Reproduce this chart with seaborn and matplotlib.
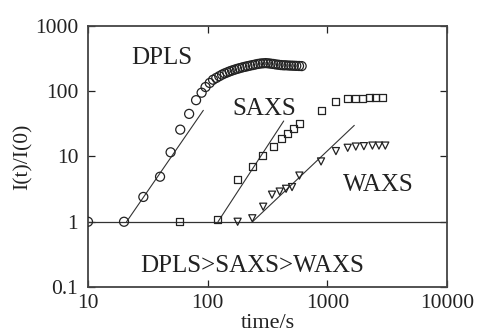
import matplotlib
matplotlib.use("Agg")
import matplotlib.pyplot as plt
import seaborn as sns
import pandas as pd

# ---- data ----
dpls_t = [10, 20, 29, 40, 49, 59, 70, 80, 89, 96,
          104, 111, 118, 125, 132, 139, 146, 153, 160, 168,
          176, 185, 195, 205, 215, 226, 238, 250, 263, 276,
          290, 305, 320, 336, 353, 370, 390, 410, 430, 450,
          475, 500, 525, 550, 580, 610]
dpls_y = [1.0, 1.0, 2.4, 4.9, 11.6, 25.8, 45, 73, 95, 116,
          134, 150, 160, 170, 180, 188, 195, 202, 208, 214,
          220, 226, 232, 237, 242, 247, 252, 257, 262, 266,
          268, 270, 268, 265, 262, 258, 255, 252, 250, 250,
          248, 247, 246, 245, 244, 243]

saxs_t = [58, 120, 178, 235, 289, 355, 411, 467, 524, 584,
          886, 1166, 1480, 1711, 1970, 2270, 2546, 2886]
saxs_y = [1.0, 1.1, 4.4, 7.1, 10.5, 14.3, 18.7, 22.3, 26.7, 32.3,
          51, 70, 77, 77, 77, 79, 81, 79]

waxs_t = [178, 236, 291, 345, 400, 452, 507, 584, 886, 1180,
          1480, 1730, 2020, 2380, 2700, 3050]
waxs_y = [1.0, 1.13, 1.7, 2.6, 2.9, 3.2, 3.4, 5.1, 8.4, 12.1,
          13.6, 14.2, 14.4, 14.7, 14.7, 14.7]

# fitted straight lines (endpoints)
dpls_fit_t = [21, 92]
dpls_fit_y = [1.0, 51]
saxs_fit_t = [122, 432]
saxs_fit_y = [1.0, 35]
waxs_fit_t = [237, 1680]
waxs_fit_y = [1.0, 30]

ref_t = [10, 10000]
ref_y = [1.0, 1.0]

labels = ["DPLS", "SAXS", "WAXS", "DPLS>SAXS>WAXS"]
label_t = [41, 299, 2660, 235]
label_y = [260, 42.8, 3.0, 0.17]

x_ticks = [10, 100, 1000, 10000]
x_ticklabels = ["10", "100", "1000", "10000"]
y_ticks = [0.1, 1, 10, 100, 1000]
y_ticklabels = ["0.1", "1", "10", "100", "1000"]

# ---- plotting ----
sns.set_theme(style="ticks")
plt.rcParams["font.family"] = ["Liberation Serif", "DejaVu Serif"]

fig = plt.figure(figsize=(4.81, 3.35), dpi=100)
ax = fig.add_axes([88 / 481, 1 - 287 / 335, (447 - 88) / 481, (287 - 26) / 335])

line_col = "#333333"
sns.lineplot(x=ref_t, y=ref_y, ax=ax, color=line_col, linewidth=0.9, estimator=None, sort=False)
for ft, fy in [(dpls_fit_t, dpls_fit_y), (saxs_fit_t, saxs_fit_y), (waxs_fit_t, waxs_fit_y)]:
    sns.lineplot(x=ft, y=fy, ax=ax, color=line_col, linewidth=0.8, estimator=None, sort=False)

sns.scatterplot(x=dpls_t, y=dpls_y, ax=ax, marker="o", s=42,
                facecolor="none", edgecolor="#222222", linewidth=0.9, zorder=3)
sns.scatterplot(x=saxs_t, y=saxs_y, ax=ax, marker="s", s=26,
                facecolor="none", edgecolor="#222222", linewidth=0.9, zorder=3)
sns.scatterplot(x=waxs_t, y=waxs_y, ax=ax, marker="v", s=26,
                facecolor="none", edgecolor="#222222", linewidth=0.9, zorder=3)

ax.set_xscale("log")
ax.set_yscale("log")
ax.set_xlim(10, 10000)
ax.set_ylim(0.1, 1000)
ax.set_xticks(x_ticks)
ax.set_xticklabels(x_ticklabels)
ax.set_yticks(y_ticks)
ax.set_yticklabels(y_ticklabels)
ax.minorticks_off()
ax.tick_params(which="major", direction="in", length=5, width=0.9,
               top=True, right=True, labelsize=15.5, colors="#222222")
ax.tick_params(axis="x", pad=5)
ax.tick_params(axis="y", pad=7)
for sp in ax.spines.values():
    sp.set_color("#444444")
    sp.set_linewidth(1.3)
    sp.set_visible(True)

ax.set_xlabel("time/s", fontsize=16, labelpad=1, color="#222222")
ax.set_ylabel("I(t)/I(0)", fontsize=15.5, labelpad=2, color="#222222")

for txt, tx, ty in zip(labels, label_t, label_y):
    ax.text(tx, ty, txt, ha="center", va="baseline", fontsize=18, color="#222222")

fig.savefig("out.png", dpi=100)
